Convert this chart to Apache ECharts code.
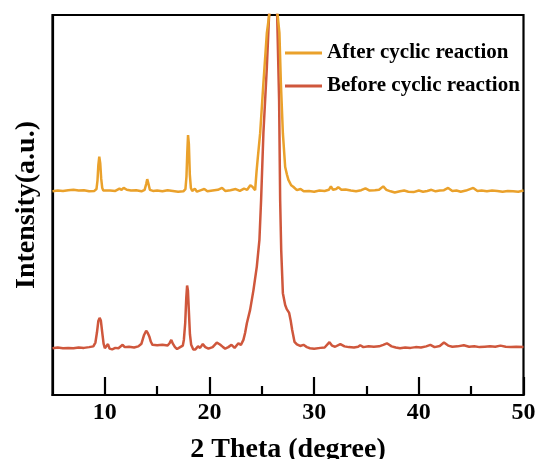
<!DOCTYPE html>
<html>
<head>
<meta charset="utf-8">
<script src="https://cdn.jsdelivr.net/npm/echarts@6/dist/echarts.min.js"></script>
<style>
  html, body { margin: 0; padding: 0; background: #fff; }
  #chart { width: 541px; height: 459px; }
</style>
</head>
<body>
<div id="chart"></div>
<script>
// XRD patterns of the catalyst, before and after the cyclic reaction (offset vertically)
const afterTheta = [
  5.0, 5.5, 6.0, 6.5, 7.0, 7.5, 8.0, 8.5, 9.0, 9.2, 9.3, 9.38, 9.47, 9.56, 9.65, 9.75, 9.85,
  10.0, 10.5, 11.0, 11.4, 11.6, 11.8, 12.1, 12.5, 13.0, 13.5, 13.8, 13.95, 14.05, 14.15, 14.3, 14.6,
  15.0, 15.5, 16.0, 16.5, 17.0, 17.5, 17.7, 17.8, 17.88, 17.95, 18.03, 18.12, 18.22, 18.35, 18.6, 18.8,
  19.2, 19.5, 19.8, 20.3, 20.8, 21.2, 21.5, 22.0, 22.5, 22.9, 23.3, 23.6, 23.9, 24.1, 24.2, 24.36,
  24.5, 24.6, 24.84, 25.15, 25.48, 25.73, 26.1, 26.49, 26.68, 26.82, 27.01, 27.23, 27.4, 27.54, 27.8, 28.0,
  28.35, 28.7, 29.0, 29.5, 30.0, 30.5, 31.0, 31.4, 31.6, 31.8, 32.1, 32.3, 32.6, 33.0, 33.5, 34.0,
  34.5, 34.9, 35.3, 35.8, 36.2, 36.6, 36.9, 37.3, 37.7, 38.2, 38.6, 39.0, 39.5, 40.0, 40.4, 40.8,
  41.2, 41.6, 42.0, 42.4, 42.8, 43.2, 43.6, 44.0, 44.5, 45.2, 45.6, 46.0, 46.5, 47.0, 47.5, 48.0,
  48.5, 49.0, 49.5, 50.0
];
const afterIntensity = [
  53.6, 53.8, 53.7, 53.9, 54.0, 53.8, 53.9, 53.6, 53.7, 54.2, 56.5, 60.5, 62.7, 61.0, 57.0, 54.5, 53.8,
  53.6, 53.8, 53.7, 54.3, 54.0, 54.5, 54.0, 53.8, 53.9, 53.6, 54.0, 55.5, 56.8, 55.8, 54.0, 53.7,
  53.8, 53.6, 53.9, 53.7, 53.5, 53.6, 54.2, 57.5, 64.0, 68.4, 66.0, 58.0, 54.5, 53.7, 54.3, 53.5,
  53.9, 54.2, 53.6, 53.8, 54.0, 54.5, 53.7, 53.9, 54.2, 53.7, 54.3, 54.0, 55.2, 54.8, 55.2, 53.9,
  59.0, 62.0, 68.9, 82.1, 95.3, 100.5, 110.0, 100.5, 95.3, 82.1, 68.9, 60.0, 58.0, 56.6, 55.2, 54.8,
  53.9, 54.2, 53.6, 53.7, 53.5, 53.8, 53.7, 54.0, 54.9, 54.0, 54.2, 54.7, 54.0, 54.1, 53.8, 53.6,
  53.9, 54.4, 53.8, 53.9, 54.0, 54.9, 54.0, 53.6, 53.3, 53.6, 53.8, 53.5, 53.4, 53.8, 53.5, 53.7,
  54.0, 53.6, 53.8, 53.9, 54.5, 53.7, 53.8, 53.5, 53.8, 54.5, 53.7, 53.8, 53.6, 53.8, 53.7, 53.5,
  53.7, 53.6, 53.5, 53.8
];

const beforeTheta = [
  5.0, 5.5, 6.0, 6.5, 7.0, 7.5, 8.0, 8.5, 8.9, 9.1, 9.25, 9.38, 9.5, 9.62, 9.75, 9.88, 10.0,
  10.1, 10.3, 10.45, 10.7, 11.0, 11.3, 11.7, 11.9, 12.3, 12.8, 13.2, 13.5, 13.75, 13.95, 14.1, 14.26,
  14.4, 14.55, 15.0, 15.5, 16.0, 16.2, 16.35, 16.5, 16.7, 16.9, 17.2, 17.45, 17.55, 17.68, 17.78, 17.86, 17.94,
  18.03, 18.13, 18.25, 18.45, 18.65, 18.9, 19.1, 19.36, 19.6, 19.9, 20.3, 20.7, 21.0, 21.3, 21.5, 21.8, 22.1,
  22.4, 22.76, 23.0, 23.24, 23.4, 23.57, 23.88, 24.2, 24.52, 24.77, 24.93, 25.15, 25.48, 25.7, 26.1, 26.46,
  26.65, 26.75, 26.85, 27.01, 27.23, 27.38, 27.47, 27.61, 27.75, 27.9, 28.12, 28.35, 28.66, 28.98, 29.3, 29.6,
  30.0, 30.6, 31.0, 31.46, 31.7, 32.0, 32.5, 32.9, 33.3, 33.8, 34.2, 34.4, 34.7, 35.2, 35.7, 36.2,
  36.6, 36.95, 37.4, 37.8, 38.2, 38.7, 39.2, 39.7, 40.2, 40.7, 41.1, 41.5, 42.0, 42.4, 42.8, 43.2,
  43.7, 44.3, 44.8, 45.3, 45.8, 46.3, 46.8, 47.3, 47.8, 48.3, 48.8, 49.3, 50.0
];
const beforeIntensity = [
  12.3, 12.5, 12.3, 12.4, 12.3, 12.5, 12.4, 12.6, 12.8, 13.8, 16.5, 19.5, 20.3, 19.6, 16.5, 13.5, 12.3,
  12.0, 13.4, 12.2, 12.0, 12.4, 12.3, 13.2, 12.6, 12.7, 12.5, 12.8, 13.5, 15.8, 16.9, 16.3, 15.3,
  14.0, 13.2, 13.1, 13.2, 13.0, 13.7, 14.5, 13.5, 12.6, 12.1, 12.6, 13.0, 14.5, 19.0, 25.5, 28.8, 27.5,
  22.0, 16.0, 13.2, 12.0, 12.0, 12.8, 12.4, 13.4, 12.6, 12.2, 12.6, 13.8, 13.3, 12.6, 12.2, 12.6, 13.2,
  12.4, 13.6, 13.2, 14.5, 16.3, 18.9, 22.4, 27.6, 33.8, 40.8, 51.3, 68.9, 86.3, 100.5, 110.0, 100.5,
  77.6, 51.3, 38.2, 26.8, 23.7, 22.6, 22.9, 21.6, 19.7, 17.1, 14.0, 13.3, 12.9, 13.2, 12.6, 12.3,
  12.2, 12.4, 12.5, 13.9, 13.0, 12.7, 13.4, 12.8, 12.6, 12.5, 12.7, 13.1, 12.6, 12.8, 12.7, 12.8,
  13.2, 13.6, 12.8, 12.5, 12.3, 12.5, 12.4, 12.6, 12.5, 12.8, 13.2, 12.6, 12.9, 13.8, 13.0, 12.7,
  12.8, 13.1, 12.7, 12.8, 12.6, 12.7, 12.8, 12.7, 13.0, 12.7, 12.6, 12.7, 12.6
];

const xTickValues = [10, 20, 30, 40, 50];
const xMinorTickValues = [15, 25, 35, 45];

const seriesNames = ['After cyclic reaction', 'Before cyclic reaction'];
const seriesColors = ['#EAA12B', '#CF573C'];

const zip = (xs, ys) => xs.map((x, i) => [x, ys[i]]);
const serif = '"Liberation Serif", "Times New Roman", serif';

const chart = echarts.init(document.getElementById('chart'), null, { renderer: 'canvas' });

const legendText = { fontFamily: serif, fontWeight: 'bold', fontSize: 21, color: '#000', lineHeight: 22 };

chart.setOption({
  backgroundColor: '#ffffff',
  animation: false,
  grid: {
    left: 52.5, right: 17.5, top: 15, bottom: 64,
    outerBoundsMode: 'none', containLabel: false,
    show: true, borderColor: '#000', borderWidth: 2.2, backgroundColor: 'transparent'
  },
  legend: [
    {
      data: [seriesNames[0]], left: 285, top: 42, orient: 'vertical',
      icon: 'rect', itemWidth: 37, itemHeight: 3, padding: 0, textStyle: legendText
    },
    {
      data: [seriesNames[1]], left: 285, top: 75, orient: 'vertical',
      icon: 'rect', itemWidth: 37, itemHeight: 3, padding: 0, textStyle: legendText
    }
  ],
  xAxis: [
    {
      type: 'value', min: 5, max: 50,
      name: '2 Theta (degree)', nameLocation: 'middle', nameGap: 41,
      nameTextStyle: { fontFamily: serif, fontWeight: 'bold', fontSize: 28, color: '#000' },
      axisLine: { show: true, lineStyle: { color: '#000', width: 2.2 } },
      axisTick: { show: true, inside: true, length: 18, customValues: xTickValues,
                  lineStyle: { color: '#000', width: 2.2 } },
      axisLabel: { show: true, customValues: xTickValues, margin: 6,
                   fontFamily: serif, fontWeight: 'bold', fontSize: 24, color: '#000' },
      splitLine: { show: false }
    },
    {
      type: 'value', min: 5, max: 50, position: 'bottom',
      axisLine: { show: false },
      axisTick: { show: true, inside: true, length: 9, customValues: xMinorTickValues,
                  lineStyle: { color: '#000', width: 2.2 } },
      axisLabel: { show: false },
      splitLine: { show: false }
    }
  ],
  yAxis: {
    type: 'value', min: 0, max: 100,
    name: 'Intensity(a.u.)', nameLocation: 'middle', nameGap: 12,
    nameTextStyle: { fontFamily: serif, fontWeight: 'bold', fontSize: 28, color: '#000' },
    axisLine: { show: true, lineStyle: { color: '#000', width: 2.2 } },
    axisTick: { show: false },
    axisLabel: { show: false },
    splitLine: { show: false }
  },
  series: [
    {
      name: seriesNames[1], type: 'line', data: zip(beforeTheta, beforeIntensity),
      showSymbol: false, clip: true, color: seriesColors[1],
      lineStyle: { color: seriesColors[1], width: 2.5 }
    },
    {
      name: seriesNames[0], type: 'line', data: zip(afterTheta, afterIntensity),
      showSymbol: false, clip: true, color: seriesColors[0],
      lineStyle: { color: seriesColors[0], width: 2.5 }
    }
  ]
});
</script>
</body>
</html>
